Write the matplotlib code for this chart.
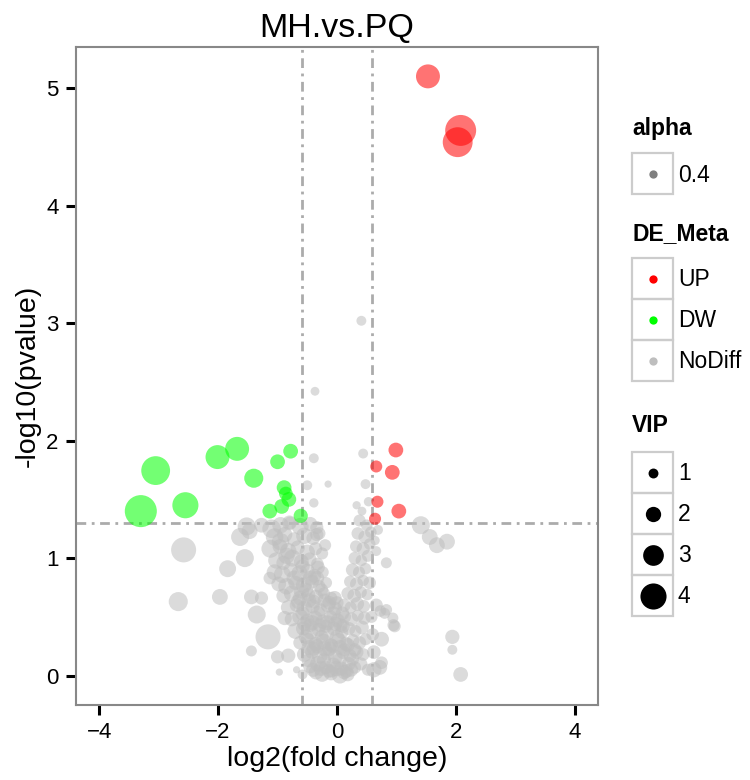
"""
Volcano plot MH.vs.PQ --- differential metabolites (ggplot-like look).
"""

import matplotlib.pyplot as plt
from matplotlib.patches import Rectangle

plt.rcParams['font.family'] = ['Liberation Sans', 'DejaVu Sans']
plt.rcParams['lines.scale_dashes'] = False

FC_CUT = 0.585   # log2(1.5)
P_CUT = 1.301    # -log10(0.05)

# ---- UP (red) ----
up_x = [1.53, 2.08, 2.03, 0.99, 0.66, 0.93, 0.68, 1.04, 0.64]
up_y = [5.10, 4.64, 4.54, 1.92, 1.78, 1.73, 1.48, 1.40, 1.335]
up_vip = [3.6, 4.9, 4.7, 1.9, 1.4, 1.9, 1.4, 1.9, 1.4]

# ---- DW (green) ----
dw_x = [-3.30, -3.05, -2.55, -2.01, -1.68, -1.40, -1.00, -0.78,
        -0.89, -0.81, -0.93, -1.13, -0.61, -0.86]
dw_y = [1.40, 1.745, 1.45, 1.86, 1.93, 1.68, 1.82, 1.91,
        1.60, 1.50, 1.44, 1.40, 1.36, 1.55]
dw_vip = [5.1, 4.5, 4.0, 3.6, 3.6, 2.7, 1.9, 1.9,
          1.9, 1.9, 1.9, 1.9, 1.8, 1.7]

# ---- NoDiff (grey): scattered ones ----
nd_out_x = [0.41, -0.37, 0.44, -0.39, -0.50, -0.15, 0.48, -0.39, 0.33, 0.53,
            0.42, 1.41, 1.56, 1.68, 1.85, 0.83, 1.94, 1.94, 2.08, 0.75,
            0.95, 0.80, 0.94, 0.72, 0.75, -2.58, -2.67, -1.84, -1.97, -1.55,
            -1.63, -1.47, -1.44, -1.35, -1.16, -1.44, -0.88, -1.00, -0.82, -0.97,
            -0.58, -0.68, -1.27, -1.13, -0.34, -0.34, -0.20, 0.69, 0.64, 0.66,
            0.73, -0.04, 0.83, 0.97, -1.52, -1.27, -0.79]
nd_out_y = [3.02, 2.42, 1.89, 1.85, 1.62, 1.63, 1.63, 1.47, 1.45, 1.48,
            1.40, 1.28, 1.18, 1.11, 1.14, 0.96, 0.33, 0.22, 0.01, 0.31,
            0.43, 0.53, 0.49, 0.07, 0.11, 1.07, 0.63, 0.91, 0.67, 1.00,
            1.18, 1.23, 0.67, 0.52, 0.33, 0.21, 0.49, 0.16, 0.17, 0.03,
            0.01, 0.05, 0.66, 0.83, 1.26, 1.20, 1.11, 1.24, 1.15, 1.06,
            0.55, 0.66, 0.56, 0.42, 1.27, 1.28, 1.30]
nd_out_vip = [1.0, 0.8, 1.0, 1.0, 1.0, 0.5, 1.0, 0.9, 0.7, 0.9,
              0.8, 2.5, 2.1, 2.1, 2.1, 1.2, 1.8, 1.0, 1.9, 1.9,
              1.4, 1.2, 1.2, 1.9, 1.5, 3.8, 2.7, 2.3, 2.1, 2.5,
              2.5, 2.1, 1.9, 2.5, 3.8, 1.2, 1.8, 1.6, 1.8, 0.5,
              1.0, 0.5, 1.6, 1.5, 1.6, 1.6, 1.4, 1.0, 0.9, 1.0,
              1.3, 1.8, 1.3, 1.4, 2.5, 1.9, 1.5]

# ---- NoDiff: left arm of the V ----
nd_left_x = [-1.10, -0.95, -0.80, -0.62, -0.45,
             -1.05, -0.88, -0.72, -0.55, -0.40, -0.30,
             -1.12, -0.96, -0.82, -0.66, -0.50, -0.36, -0.25,
             -1.02, -0.90, -0.75, -0.60, -0.46, -0.33,
             -1.05, -0.92, -0.78, -0.63, -0.50, -0.38, -0.24,
             -0.98, -0.85, -0.70, -0.56, -0.42, -0.30, -0.18,
             -0.90, -0.76, -0.62, -0.48, -0.35, -0.22, -0.10]
nd_left_y = [1.25, 1.28, 1.30, 1.27, 1.29,
             1.18, 1.20, 1.16, 1.19, 1.17, 1.21,
             1.08, 1.10, 1.06, 1.09, 1.05, 1.08, 1.04,
             0.98, 0.96, 1.00, 0.97, 0.99, 0.95,
             0.88, 0.86, 0.90, 0.87, 0.89, 0.85, 0.88,
             0.78, 0.76, 0.79, 0.77, 0.80, 0.76, 0.79,
             0.68, 0.70, 0.66, 0.69, 0.67, 0.70, 0.66]
nd_left_vip = [2.6, 2.2, 1.9, 2.3, 1.8,
               2.4, 2.0, 1.8, 2.2, 1.7, 1.5,
               2.5, 1.9, 2.2, 1.8, 2.0, 1.6, 1.4,
               2.2, 1.8, 2.3, 1.9, 1.7, 1.5,
               2.1, 2.3, 1.8, 2.2, 1.9, 1.7, 1.4,
               1.9, 2.2, 1.8, 2.1, 1.7, 1.5, 1.3,
               1.8, 2.1, 1.9, 1.7, 1.8, 1.4, 1.5]

# ---- NoDiff: bottom of the V ----
nd_base_x = [-0.82, -0.68, -0.55, -0.41, -0.28, -0.15, -0.03,
             -0.76, -0.62, -0.50, -0.37, -0.24, -0.11, 0.01,
             -0.70, -0.57, -0.44, -0.31, -0.18, -0.05, 0.08,
             -0.62, -0.49, -0.36, -0.23, -0.10, 0.03, 0.15,
             -0.55, -0.42, -0.29, -0.16, -0.03, 0.10, 0.22,
             -0.45, -0.32, -0.19, -0.06, 0.07, 0.20, 0.30,
             -0.25, -0.10, 0.05, 0.18]
nd_base_y = [0.58, 0.60, 0.57, 0.59, 0.56, 0.60, 0.57,
             0.48, 0.50, 0.47, 0.49, 0.46, 0.50, 0.47,
             0.38, 0.40, 0.37, 0.39, 0.36, 0.40, 0.37,
             0.28, 0.30, 0.27, 0.29, 0.26, 0.30, 0.27,
             0.18, 0.20, 0.17, 0.19, 0.16, 0.20, 0.17,
             0.08, 0.10, 0.07, 0.09, 0.06, 0.10, 0.07,
             0.01, 0.02, 0.00, 0.01]
nd_base_vip = [1.9, 1.7, 2.1, 1.8, 1.6, 1.9, 1.7,
               1.8, 2.1, 1.7, 1.9, 1.8, 1.6, 1.8,
               2.1, 1.8, 1.9, 1.7, 2.1, 1.8, 1.6,
               1.7, 1.9, 1.8, 2.1, 1.7, 1.9, 1.8,
               1.9, 1.7, 2.1, 1.8, 1.9, 1.7, 1.6,
               1.8, 2.1, 1.7, 1.9, 1.8, 1.7, 1.5,
               1.9, 1.8, 2.1, 1.7]

nd_fill_x = [-0.58, -0.45, -0.32, -0.19, -0.06, 0.06, -0.52, -0.39, -0.26, -0.13,
             0.00, 0.12, -0.48, -0.35, -0.22, -0.09, 0.04, 0.16, 0.26, -0.65,
             -0.52, -0.39, -0.26, -0.13, -0.72, -0.58, -0.45, -0.32, 0.00, 0.09]
nd_fill_y = [0.53, 0.43, 0.53, 0.42, 0.53, 0.43, 0.33, 0.23, 0.33, 0.23,
             0.33, 0.22, 0.13, 0.03, 0.13, 0.04, 0.13, 0.04, 0.14, 0.63,
             0.73, 0.63, 0.73, 0.62, 0.83, 0.93, 0.83, 0.92, 0.62, 0.53]
nd_fill_vip = [1.8, 1.7, 1.9, 1.6, 1.8, 1.7, 1.9, 1.8, 1.7, 1.9,
               1.8, 1.6, 1.7, 1.9, 1.8, 1.6, 1.8, 1.7, 1.6, 1.9,
               1.8, 1.7, 1.6, 1.7, 2.0, 1.8, 1.9, 1.7, 1.6, 1.7]

nd_core_x = [-0.40, -0.27, -0.14, -0.01, 0.12, 0.24,
             -0.47, -0.34, -0.21, -0.08, 0.05, 0.18, 0.30,
             -0.55, -0.42, -0.29, -0.16, -0.03, 0.10,
             -0.60, -0.47, -0.34, -0.21, -0.85, -0.95]
nd_core_y = [0.05, 0.06, 0.04, 0.06, 0.03, 0.05,
             0.24, 0.25, 0.23, 0.25, 0.24, 0.26, 0.22,
             0.44, 0.45, 0.43, 0.45, 0.44, 0.42,
             0.72, 0.64, 0.83, 0.64, 1.02, 1.14]
nd_core_vip = [1.8, 1.9, 1.7, 2.0, 1.8, 1.7,
               1.9, 1.8, 2.0, 1.7, 1.9, 1.8, 1.6,
               1.8, 2.0, 1.7, 1.9, 1.8, 1.7,
               2.0, 1.8, 1.9, 1.7, 2.2, 2.4]

# ---- NoDiff: right arm of the V ----
nd_right_x = [0.38, 0.50, 0.35, 0.47, 0.57, 0.32, 0.44, 0.55, 0.30, 0.41,
              0.52, 0.26, 0.37, 0.48, 0.22, 0.33, 0.44, 0.55, 0.18, 0.29,
              0.40, 0.51, 0.12, 0.23, 0.34, 0.45, 0.13, 0.24, 0.35, 0.46,
              0.20, 0.31, 0.42, 0.27, 0.38, 0.48, 0.33, 0.44, 0.40, 0.52,
              0.60, 0.62, 0.58, 0.66, 0.62]
nd_right_y = [1.32, 1.28, 1.21, 1.18, 1.22, 1.10, 1.08, 1.12, 1.00, 0.98,
              1.02, 0.90, 0.88, 0.91, 0.80, 0.78, 0.81, 0.79, 0.70, 0.68,
              0.71, 0.69, 0.60, 0.58, 0.61, 0.59, 0.50, 0.48, 0.51, 0.49,
              0.40, 0.38, 0.41, 0.30, 0.28, 0.31, 0.20, 0.18, 0.10, 0.05,
              0.35, 0.20, 0.50, 0.60, 0.05]
nd_right_vip = [1.4, 1.3, 1.5, 1.6, 1.3, 1.4, 1.6, 1.3, 1.5, 1.3,
                1.4, 1.6, 1.4, 1.3, 1.4, 1.6, 1.3, 1.5, 1.5, 1.7,
                1.4, 1.3, 1.6, 1.4, 1.7, 1.5, 1.5, 1.7, 1.4, 1.6,
                1.6, 1.4, 1.7, 1.5, 1.6, 1.4, 1.7, 1.5, 1.6, 1.4,
                1.5, 1.7, 1.4, 1.6, 2.0]

VIP_BREAKS = [1, 2, 3, 4]
COLORS = {"UP": "#FF0000", "DW": "#00FF00", "NoDiff": "#BEBEBE"}
ALPHA = 0.55


def vip_size(v):
    """VIP -> marker area (pt^2); diameter grows linearly with VIP."""
    d_px = 4.5 + 5.4 * v
    return (0.72 * d_px) ** 2


def main():
    fig = plt.figure(figsize=(7.5, 7.8), dpi=100)
    ax = fig.add_axes([76 / 750, 1 - 705 / 780, 522 / 750, 658 / 780])

    grey_sets = [(nd_out_x, nd_out_y, nd_out_vip),
                 (nd_left_x, nd_left_y, nd_left_vip),
                 (nd_base_x, nd_base_y, nd_base_vip),
                 (nd_fill_x, nd_fill_y, nd_fill_vip),
                 (nd_core_x, nd_core_y, nd_core_vip),
                 (nd_right_x, nd_right_y, nd_right_vip)]
    for xs, ys, vs in grey_sets:
        ax.scatter(xs, ys, s=[vip_size(v) for v in vs], color=COLORS["NoDiff"],
                   alpha=ALPHA, linewidths=0, zorder=2)
    ax.scatter(dw_x, dw_y, s=[vip_size(v) for v in dw_vip], color=COLORS["DW"],
               alpha=ALPHA, linewidths=0, zorder=3)
    ax.scatter(up_x, up_y, s=[vip_size(v) for v in up_vip], color=COLORS["UP"],
               alpha=ALPHA, linewidths=0, zorder=3)

    dash = (0, (7, 4, 2, 4))
    for xv in (-FC_CUT, FC_CUT):
        ax.axvline(xv, color="#ABABAB", lw=2.0, ls=dash, zorder=1)
    ax.axhline(P_CUT, color="#ABABAB", lw=2.0, ls=dash, zorder=1)

    ax.set_xlim(-4.39, 4.39)
    ax.set_ylim(-0.25, 5.35)
    ax.set_xticks([-4, -2, 0, 2, 4])
    ax.set_xticklabels(["\u22124", "\u22122", "0", "2", "4"])
    ax.set_yticks([0, 1, 2, 3, 4, 5])
    ax.tick_params(length=7.5, width=2.2, color="black", labelsize=16,
                   labelcolor="black", pad=5)
    for sp in ax.spines.values():
        sp.set_color("#888888")
        sp.set_linewidth(1.5)

    ax.set_title("MH.vs.PQ", fontsize=24.5, pad=7)
    ax.set_xlabel("log2(fold change)", fontsize=20.5, labelpad=2)
    ax.set_ylabel("-log10(pvalue)", fontsize=20.5, labelpad=4)

    # ---- ggplot-style legends, drawn in pixel space ----
    lg = fig.add_axes([0, 0, 1, 1], zorder=5)
    lg.set_xlim(0, 750)
    lg.set_ylim(780, 0)
    lg.axis("off")
    kx, kw, kh = 632, 41, 41
    box = dict(fill=False, edgecolor="#CCCCCC", lw=1.6)
    tfont = dict(fontsize=16.5, fontweight="bold", va="center", ha="left")
    lfont = dict(fontsize=16.5, va="center", ha="left")

    lg.text(kx, 129, "alpha", **tfont)
    lg.add_patch(Rectangle((kx, 153), kw, kh, **box))
    lg.scatter([kx + kw / 2], [174], s=vip_size(0.7), color="#7F7F7F", linewidths=0)
    lg.text(kx + 46, 175, "0.4", **lfont)

    lg.text(kx, 234, "DE_Meta", **tfont)
    for i, name in enumerate(["UP", "DW", "NoDiff"]):
        top = 258 + i * kh
        lg.add_patch(Rectangle((kx, top), kw, kh, **box))
        lg.scatter([kx + kw / 2], [top + kh / 2], s=vip_size(0.7),
                   color=COLORS[name], linewidths=0)
        lg.text(kx + 46, top + kh / 2 + 1, name, **lfont)

    lg.text(kx, 425, "VIP", **tfont)
    for i, v in enumerate(VIP_BREAKS):
        top = 452 + i * kh
        lg.add_patch(Rectangle((kx, top), kw, kh, **box))
        lg.scatter([kx + kw / 2], [top + kh / 2], s=vip_size(v),
                   color="black", linewidths=0)
        lg.text(kx + 46, top + kh / 2 + 1, str(v), **lfont)

    fig.savefig("out.png", dpi=100)


if __name__ == "__main__":
    main()
